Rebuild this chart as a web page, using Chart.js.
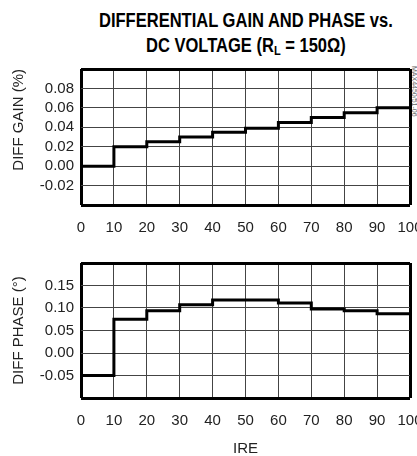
<!DOCTYPE html>
<html>
<head>
<script src="https://cdnjs.cloudflare.com/ajax/libs/Chart.js/4.4.0/chart.umd.min.js"></script>
<style>
  body { margin:0; width:417px; height:456px; overflow:hidden; background:#fff; position:relative;
         font-family:'Liberation Sans',Arial,sans-serif; }
  .tl { position:absolute; left:246px; white-space:nowrap; font-weight:bold; font-size:19.5px;
        line-height:20px; color:#000; transform-origin:0 0; }
  #t1 { top:10px; }
  #t2 { top:35px; }
  .tl sub { font-size:13px; vertical-align:-3px; line-height:0; }
  #tag { position:absolute; left:409px; top:66px; font-size:7px; color:#666; white-space:nowrap;
         transform-origin:0 0; transform:translate(9px,0) rotate(90deg); }
  canvas { position:absolute; left:0; }
</style>
<script>
// IRE steps, value holds from each x to the next one
var ire = [0, 10, 20, 30, 40, 50, 60, 70, 80, 90];
var ireMax = 100;
var gain = [0.000, 0.020, 0.025, 0.030, 0.035, 0.039, 0.045, 0.050, 0.055, 0.060];
var phase = [-0.050, 0.075, 0.094, 0.107, 0.118, 0.118, 0.111, 0.098, 0.094, 0.087];

// axis ranges [min, max, step] (outer ticks sit on the frame and carry no label)
var gainAxis = [-0.04, 0.10, 0.02];
var phaseAxis = [-0.10, 0.20, 0.05];

var tickFont = { family: "'Liberation Sans',Arial,sans-serif", size: 15 };
var gridCol = '#444';

function stepPoints(xs, ys) {
  var pts = xs.map((x, i) => ({ x: x, y: ys[i] }));
  pts.push({ x: ireMax, y: ys[ys.length - 1] });
  return pts;
}

function edge(v, lo, hi) {
  return Math.abs(v - lo) < 1e-9 || Math.abs(v - hi) < 1e-9;
}

function makeChart(id, ys, axis, yTitle, yAlign, padTop, xHeight, xTitle) {
  var lo = axis[0], hi = axis[1];
  return new Chart(document.getElementById(id), {
    type: 'line',
    data: { datasets: [{ data: stepPoints(ire, ys), stepped: true, borderColor: '#000',
                         borderWidth: 3, pointRadius: 0, fill: false }] },
    options: {
      responsive: false, animation: false, devicePixelRatio: 1,
      layout: { padding: { top: padTop, right: 7, left: 0, bottom: 0 } },
      plugins: { legend: { display: false }, tooltip: { enabled: false } },
      scales: {
        x: {
          type: 'linear', min: 0, max: ireMax,
          ticks: { stepSize: 10, padding: 14, font: tickFont, color: '#222', maxRotation: 0, autoSkip: false },
          grid: { drawTicks: false, color: c => edge(c.tick.value, 0, ireMax) ? '#000' : gridCol,
                  lineWidth: c => edge(c.tick.value, 0, ireMax) ? 3 : 1 },
          border: { display: false },
          title: { display: !!xTitle, text: xTitle, font: tickFont, color: '#222', padding: { top: 0, bottom: -2 } },
          afterFit: s => { s.height = xHeight; s.paddingLeft = 0; s.paddingRight = 0; }
        },
        y: {
          min: lo, max: hi,
          ticks: { stepSize: axis[2], padding: 7, font: tickFont, color: '#222', autoSkip: false,
                   callback: v => edge(v, lo, hi) ? '' : v.toFixed(2) },
          grid: { drawTicks: false, color: c => edge(c.tick.value, lo, hi) ? '#000' : gridCol,
                  lineWidth: c => edge(c.tick.value, lo, hi) ? 3 : 1 },
          border: { display: false },
          title: { display: true, text: yTitle, align: yAlign, font: tickFont, color: '#222', padding: { top: 10 } },
          afterFit: s => { s.width = 81; s.paddingTop = 0; s.paddingBottom = 0; }
        }
      }
    }
  });
}

// squeeze the heading to the reference width of line 1, both lines centred on x=246
function fitTitle(ids, w) {
  var k = w / document.getElementById(ids[0]).offsetWidth;
  ids.forEach(id => {
    var el = document.getElementById(id);
    el.style.transform = 'translateX(' + (-el.offsetWidth * k / 2) + 'px) scaleX(' + k + ')';
  });
}

window.addEventListener('load', function () {
  fitTitle(['t1', 't2'], 294);
  makeChart('gainChart', gain, gainAxis, 'DIFF GAIN (%)', 'end', 9, 35, '');
  makeChart('phaseChart', phase, phaseAxis, 'DIFF PHASE (°)', 'center', 13, 58, 'IRE');
});
</script>
</head>
<body>
  <div class="tl" id="t1">DIFFERENTIAL GAIN AND PHASE vs.</div>
  <div class="tl" id="t2">DC VOLTAGE (R<sub>L</sub> = 150&Omega;)</div>
  <div id="tag">MAX4450/51-06</div>
  <canvas id="gainChart" width="417" height="180" style="top:60px"></canvas>
  <canvas id="phaseChart" width="417" height="206" style="top:250px"></canvas>
</body>
</html>
